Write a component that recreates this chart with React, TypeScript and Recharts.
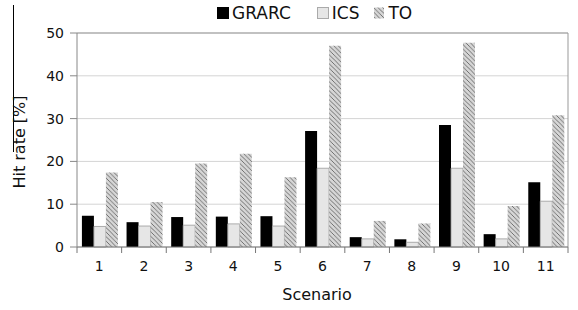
import { Bar, BarChart, CartesianGrid, ReferenceLine, XAxis, YAxis } from "recharts";

const scenarios = ["1", "2", "3", "4", "5", "6", "7", "8", "9", "10", "11"];
const grarc = [7.3, 5.8, 7.0, 7.1, 7.2, 27.1, 2.3, 1.8, 28.5, 3.0, 15.1];
const ics = [4.8, 4.9, 5.1, 5.4, 4.9, 18.4, 1.9, 1.1, 18.4, 1.9, 10.7];
const to = [17.4, 10.5, 19.5, 21.8, 16.3, 47.0, 6.1, 5.5, 47.7, 9.6, 30.8];
const yTicks = [0, 10, 20, 30, 40, 50];

const data = scenarios.map((name, i) => ({ name, GRARC: grarc[i], ICS: ics[i], TO: to[i] }));

const font = "'DejaVu Sans', sans-serif";
const W = 578;
const H = 310;
const xAxisHeight = 30;
const margin = { top: 33, right: 10, bottom: 63 - xAxisHeight, left: 0 };
const axisWidth = 77;
const plotLeft = margin.left + axisWidth;
const plotRight = W - margin.right;
const plotBottom = 247;
const band = (plotRight - plotLeft) / scenarios.length;

function ScenarioTick(props: any) {
  const { x, payload, index } = props;
  const left = x - band / 2;
  return (
    <g>
      <line x1={left} x2={left} y1={plotBottom} y2={plotBottom + 6} stroke="#777" />
      {index === scenarios.length - 1 && (
        <line x1={left + band} x2={left + band} y1={plotBottom} y2={plotBottom + 6} stroke="#777" />
      )}
      <text x={x} y={plotBottom + 14} dy="0.71em" textAnchor="middle" fontSize={14} fill="#111" fontFamily={font}>
        {payload.value}
      </text>
    </g>
  );
}

function LegendBox() {
  const item = (label: string, swatch: any, gap: number) => (
    <span style={{ display: "inline-flex", alignItems: "center", marginRight: gap }}>
      <svg width={12} height={12} style={{ marginRight: 3 }}>
        {swatch}
      </svg>
      {label}
    </span>
  );
  return (
    <div
      style={{
        position: "absolute",
        left: 217,
        top: 4,
        fontFamily: font,
        fontSize: 17,
        color: "#111",
        display: "flex",
        lineHeight: "18px",
      }}
    >
      {item("GRARC", <rect x={0} y={0} width={12} height={12} fill="#000" />, 26)}
      {item("ICS", <rect x={0.5} y={0.5} width={11} height={11} fill="#e6e6e6" stroke="#aaa" />, 14)}
      {item("TO", <rect x={1} y={0.5} width={10} height={11} fill="url(#hatch)" />, 0)}
    </div>
  );
}

export default function App() {
  return (
    <div style={{ position: "fixed", left: 0, top: 0, width: W, height: H, background: "#fff" }}>
      <svg width={0} height={0} style={{ position: "absolute" }}>
        <defs>
          <pattern id="hatch" patternUnits="userSpaceOnUse" width={4.5} height={4.5}>
            <rect width={4.5} height={4.5} fill="#d6d6d6" />
            <path d="M0,0 L4.5,4.5 M-1,3.5 L1,5.5 M3.5,-1 L5.5,1" stroke="#666" strokeWidth={0.9} />
          </pattern>
        </defs>
      </svg>
      <div style={{ position: "absolute", left: 13, top: 5, width: 1, height: 147, background: "#000" }} />
      <LegendBox />
      <BarChart width={W} height={H} data={data} margin={margin} barCategoryGap="11%" barGap={0}>
        <CartesianGrid vertical={false} stroke="#d4d4d4" />
        <CartesianGrid horizontal={false} verticalPoints={[plotRight]} stroke="#999" />
        <ReferenceLine y={50} stroke="#999" />
        <XAxis
          dataKey="name"
          height={xAxisHeight}
          stroke="#777"
          tickLine={false}
          tick={<ScenarioTick />}
          interval={0}
          label={{
            value: "Scenario",
            content: () => (
              <text x={317} y={294} dy="0.35em" textAnchor="middle" fontSize={16} fill="#111" fontFamily={font}>
                Scenario
              </text>
            ),
          }}
        />
        <YAxis
          width={axisWidth}
          domain={[0, 50]}
          ticks={yTicks}
          stroke="#888"
          tickSize={7}
          tickMargin={6}
          tick={{ fontSize: 14, fill: "#111", fontFamily: font }}
          label={{
            value: "Hit rate [%]",
            content: () => (
              <text
                x={19}
                y={142}
                textAnchor="middle"
                dy="0.35em"
                fontSize={16}
                fill="#111"
                fontFamily={font}
                transform="rotate(-90 19 142)"
              >
                Hit rate [%]
              </text>
            ),
          }}
        />
        <Bar dataKey="GRARC" fill="#000" isAnimationActive={false} />
        <Bar dataKey="ICS" fill="#e6e6e6" stroke="#999" strokeWidth={0.8} isAnimationActive={false} />
        <Bar dataKey="TO" fill="url(#hatch)" isAnimationActive={false} />
      </BarChart>
    </div>
  );
}
